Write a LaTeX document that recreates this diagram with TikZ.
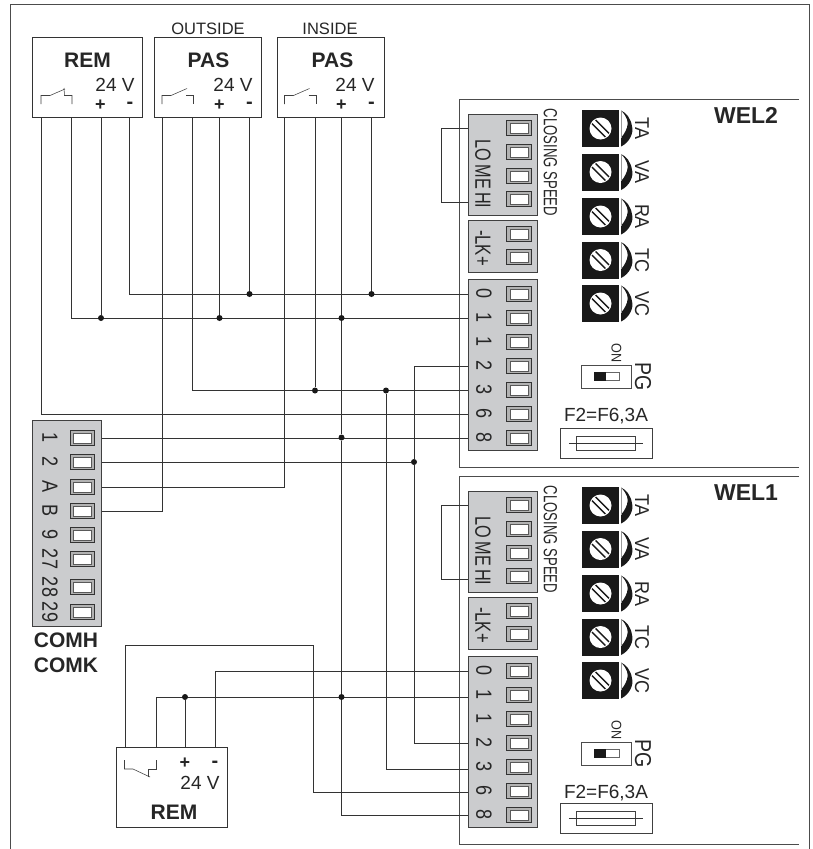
\documentclass[tikz,border=0pt]{standalone}
\usepackage{fontspec}
\setmainfont{Liberation Sans}
\usetikzlibrary{positioning, calc}
\definecolor{panelgray}{HTML}{CBCCCE}
\newcommand{\fsize}[1]{\fontsize{#1}{#1}\selectfont}
\newcommand{\squeeze}[2]{\scalebox{#1}[1]{#2}}
\tikzset{
	devbox/.style = {
		draw = black!80,
		line width = .9pt,
		fill = white,
		inner sep = 0pt
	},
	panel/.style = {
		draw = black!75,
		line width = .9pt,
		fill = panelgray,
		inner sep = 0pt,
		minimum width = 69.5pt
	},
	term/.style = {
		draw = black!80,
		line width = .8pt,
		fill = black!30,
		inner sep = 0pt,
		minimum width = 24.5pt,
		minimum height = 15.5pt
	},
	terminner/.style = {
		draw = black!65,
		line width = .5pt,
		fill = white,
		inner sep = 0pt,
		minimum width = 18pt,
		minimum height = 10pt
	},
	wire/.style = {
		draw = black!80,
		line width = .8pt
	},
	frameline/.style = {
		draw = black!70,
		line width = .9pt
	},
	contact/.style = {
		draw = black!75,
		line width = .55pt
	},
	joint/.style = {
		circle,
		fill = black!90,
		inner sep = 0pt,
		minimum size = 6pt
	},
	lbl/.style = {
		inner sep = 0pt,
		text = black!85,
		font = \fsize{19}
	},
	head/.style = {
		lbl,
		font = \fsize{21}\bfseries
	},
	plus/.style = {
		lbl,
		font = \fsize{18}\bfseries
	},
	minus/.style = {
		lbl,
		font = \fsize{20}\bfseries
	},
	sidelbl/.style = {
		lbl,
		rotate = -90,
		font = \fsize{22}
	},
	screw/.style = {
		fill = black!90,
		inner sep = 0pt,
		minimum size = 37pt
	},
	screwhead/.style = {
		circle,
		fill = white,
		inner sep = 0pt,
		minimum size = 22pt
	}
}
\pgfdeclarelayer{background}
\pgfsetlayers{background,main}

\newcommand{\termbox}[3]{
	\node[term] (#1) at (#2,#3) {};
	\node[terminner] (#1i) at (#1) {};
}

% one control unit, #1 = name prefix, #2 = shift down, #3 = title, #4 = fuse shift
\newcommand{\welunit}[4]{
	\begin{scope}[name prefix = #1, shift = {(0,#2)}]
		\node[panel, minimum height = 101pt] (speed) at (502.75,164.5) {};
		\node[sidelbl] (speedlbl) at (483,174) {\squeeze{.74}{LO\hspace{.2em}ME\hspace{.2em}HI}};
		\node[lbl, rotate = -90] (closing) at (550.5,162.5) {\squeeze{.69}{CLOSING SPEED}};
		\foreach \y/\n in {128/1, 152/2, 176/3, 199/4} {
			\termbox{s\n}{519}{\y}
		}

		\node[panel, minimum height = 52pt] (lock) at (502.75,246) {};
		\node[sidelbl] (locklbl) at (483,248) {\squeeze{.76}{-LK+}};
		\foreach \y/\n in {234/1, 257/2} {
			\termbox{k\n}{519}{\y}
		}

		\node[panel, minimum height = 171pt] (block) at (502.75,364.5) {};
		\foreach \y/\n/\txt in {294/0/0, 318/1/1, 342/x/1, 366/2/2, 390/3/3, 414/6/6, 438/8/8} {
			\termbox{t\n}{519}{\y}
			\node[sidelbl] (l\n) at (484,\y) {\squeeze{.82}{\txt}};
		}

		\foreach \y/\txt in {128.5/TA, 172/VA, 216.5/RA, 260/TC, 303.5/VC} {
			\node[screw] (b\txt) at (600.5,\y) {};
			\node[screwhead] (h\txt) at (b\txt) {};
			\draw[black!90, line width = 1.3pt] (600.5-4.9,\y-8.5) -- (600.5+8.5,\y+4.9);
			\draw[black!90, line width = 1.3pt] (600.5-8.5,\y-4.9) -- (600.5+4.9,\y+8.5);
			\fill[black!90] (621,\y+18) .. controls (630,\y+14) and (634,\y+3) .. (632,\y-2)
				.. controls (631,\y-10) and (626,\y-16) .. (621,\y-18)
				.. controls (627,\y-12) and (629,\y-6) .. (627,\y-1)
				.. controls (625,\y+5) and (622,\y+8) .. (621,\y+9) -- cycle;
			\draw[black!40, line width = .4pt] (621,\y-18) -- (621,\y+9);
			\node[lbl, rotate = -90, font = \fsize{20}] (n\txt) at (642,\y) {\squeeze{.9}{\txt}};
		}

		\node[draw = black!70, line width = .8pt, inner sep = 0pt, minimum width = 50.5pt, minimum height = 23pt] (pg) at (606.5,376.5) {};
		\node[draw = black!60, line width = .6pt, inner sep = 0pt, minimum width = 25pt, minimum height = 8.5pt] (slide) at (pg) {};
		\fill[black!90] (slide.south west) rectangle ($(slide.north)+(-1,0)$);
		\node[lbl, rotate = -90, font = \fsize{14}] (on) at (616.5,353) {\squeeze{.9}{ON}};
		\node[lbl, rotate = -90, font = \fsize{23}] (pglbl) at (643,377) {\squeeze{.85}{PG}};

		\node[lbl] (rating) at (606,416.5) {F2=F6,3A};
		\node[draw = black!75, line width = .8pt, inner sep = 0pt, minimum width = 92pt, minimum height = 30pt] (fuse) at (606,443.5+#4) {};
		\node[draw = black!75, line width = .7pt, inner sep = 0pt, minimum width = 59.5pt, minimum height = 14pt] (fusebody) at (fuse) {};
		\draw[wire] ([xshift=-7pt]fusebody.west) -- ([xshift=7pt]fusebody.east);

		\node[lbl, font = \fsize{23}\bfseries] (title) at (746,115.5) {#3};

		\coordinate (loop) at (441.5,128);
		\begin{pgfonlayer}{background}
			\draw[frameline] (799,99) -- (459,99) -- (459,467) -- (799,467);
			\draw[wire] (s1.west) -- (loop) |- ([yshift=-3pt]s4.west);
		\end{pgfonlayer}
	\end{scope}
}

\begin{document}
\begin{tikzpicture}[x = 1pt, y = -1pt]
	\useasboundingbox (0,0) rectangle (813,849);
	\draw[frameline] (10,849) -- (10,4.5) -- (809,4.5) -- (809,849);

	% top devices
	\node[devbox, minimum width = 110pt, minimum height = 79.5pt] (REM) at (87.5,77.25) {};
	\node[devbox, right = 11pt of REM, minimum width = 107.5pt, minimum height = 79.5pt] (PASo) {};
	\node[devbox, right = 14.5pt of PASo, minimum width = 107.5pt, minimum height = 79.5pt] (PASi) {};

	\node[head] (REMt) at (87.5,60) {REM};
	\node[lbl] (REMv) at (115,85) {24 V};
	\node[plus] (REMp) at (100.5,105) {+};
	\node[minus] (REMm) at (130,105) {-};
	\node[head] (PASot) at (208.5,60) {PAS};
	\node[lbl] (PASov) at (233,85) {24 V};
	\node[plus] (PASop) at (219.5,105) {+};
	\node[minus] (PASom) at (249.5,105) {-};
	\node[head] (PASit) at (332.5,60) {PAS};
	\node[lbl] (PASiv) at (355,85) {24 V};
	\node[plus] (PASip) at (341.5,105) {+};
	\node[minus] (PASim) at (371.5,105) {-};
	\node[lbl, font = \fsize{16.5}] (outside) at (208,28.5) {OUTSIDE};
	\node[lbl, font = \fsize{16.5}] (inside) at (330,28.5) {INSIDE};

	\draw[contact] (41,104) |- (50,95.5) -- (65,89);
	\draw[contact] (64,88) -- (64.5,95.5) -| (72,104);
	\foreach \dx in {0, 122.5} {
		\draw[contact] (162+\dx,104) |- (171+\dx,95.5) -- (187+\dx,88.5);
		\draw[contact] (186+\dx,95.5) -| (193.5+\dx,104);
	}
	\foreach \x/\n in {41/1, 71/2, 101/3, 129.5/4}
		\coordinate (pR\n) at (\x,117);
	\foreach \x/\n in {162/1, 192/2, 219.5/3, 249.5/4}
		\coordinate (pO\n) at (\x,117);
	\foreach \x/\n in {284.5/1, 315/2, 341.5/3, 371.5/4}
		\coordinate (pI\n) at (\x,117);

	% bottom device
	\node[devbox, minimum width = 110.5pt, minimum height = 79.5pt] (REMb) at (171.75,787.25) {};
	\node[head] (REMbt) at (174,812) {REM};
	\node[lbl] (REMbv) at (200,783) {24 V};
	\node[plus] (REMbp) at (185,763) {+};
	\node[minus] (REMbm) at (215,764.5) {-};
	\draw[contact] (124.5,760) |- (133,769) -- (150,777);
	\draw[contact] (148,777) -- (148,769) -| (156.5,760);
	\foreach \x/\n in {125.5/1, 156.5/2, 185/3, 215.5/4}
		\coordinate (pB\n) at (\x,747.5);
	\coordinate (drop) at (313,645.5);

	% connection block on the left
	\node[panel, minimum height = 206pt] (COM) at (66.75,523.75) {};
	\foreach \y/\txt in {438/1, 462/2, 487/A, 511/B, 535/9, 559/27, 587/28, 612/29} {
		\termbox{C\txt}{82.5}{\y}
		\node[sidelbl] (Cl\txt) at (50,\y) {\squeeze{.82}{\txt}};
	}
	\node[head] (COMH) at (66,640.5) {COMH};
	\node[head] (COMK) at (66,665.5) {COMK};

	\welunit{W2}{0}{WEL2}{0}
	\welunit{W1}{377}{WEL1}{-2}

	% junctions
	\node[joint] (j1) at (249.5,294) {};
	\node[joint] (j2) at (371.5,294) {};
	\node[joint] (j3) at (101,318) {};
	\node[joint] (j4) at (219.5,318) {};
	\node[joint] (j5) at (341.5,318) {};
	\node[joint] (j6) at (315,390.5) {};
	\node[joint] (j7) at (386,390.5) {};
	\node[joint] (j8) at (341.5,437.5) {};
	\node[joint] (j9) at (414,462) {};
	\node[joint] (j10) at (185,697) {};
	\node[joint] (j11) at (341.5,697) {};

	\begin{pgfonlayer}{background}
		% top devices to WEL2
		\draw[wire] (pR4) |- (W2t0.west);
		\draw[wire] (pR3) -- (j3);
		\draw[wire] (pR2) |- (W2t1.west);
		\draw[wire] (pR1) |- (W2t6.west);
		\draw[wire] (pO4) -- (j1);
		\draw[wire] (pO3) -- (j4);
		\draw[wire] (pO2) |- (W2t3.west);
		\draw[wire] (pO1) |- (CB.east);
		\draw[wire] (pI4) -- (j2);
		\draw[wire] (pI3) -- (j5) -- (j8) -- (j11);
		\draw[wire] (pI2) -- (j6);
		\draw[wire] (pI1) |- (CA.east);

		% WEL2 to WEL1
		\draw[wire] (C1.east) -- (W2t8.west);
		\draw[wire] (C2.east) -- (j9);
		\draw[wire] (W2t2.west) -| (j9) |- (W1t2.west);
		\draw[wire] (j7) |- ([yshift=-2pt]W1t3.west);
		\draw[wire] (j11) |- (W1t8.west);

		% bottom device to WEL1
		\draw[wire] (pB1) |- (drop) |- ([yshift=-1pt]W1t6.west);
		\draw[wire] (pB2) |- ([yshift=-2pt]W1t1.west);
		\draw[wire] (pB3) -- (j10);
		\draw[wire] (pB4) |- (W1t0.west);
	\end{pgfonlayer}
\end{tikzpicture}
\end{document}
